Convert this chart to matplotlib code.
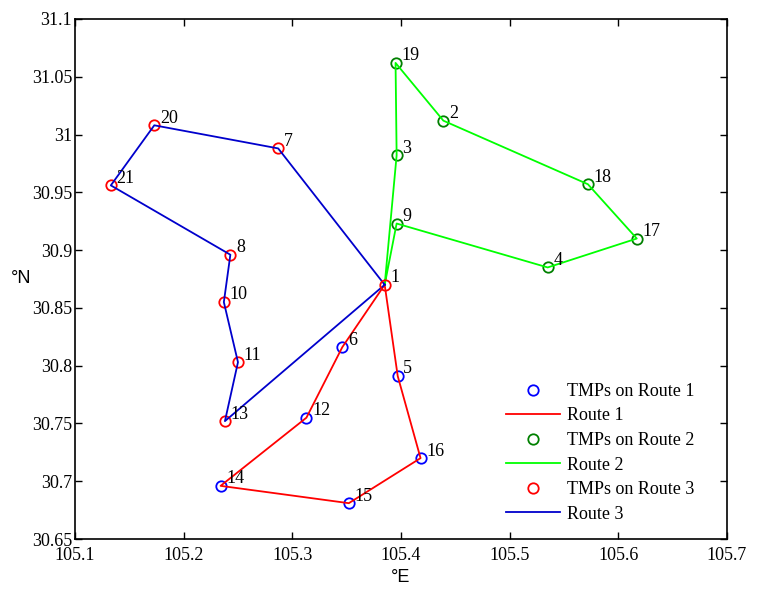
import matplotlib
matplotlib.use("Agg")
import matplotlib.pyplot as plt

# --- coordenadas de los puntos (lon, lat) ---
ids = list(range(1, 22))
lon = [105.385, 105.439, 105.396, 105.535, 105.397, 105.346, 105.287, 105.243,
       105.396, 105.237, 105.250, 105.313, 105.238, 105.234, 105.352, 105.418,
       105.617, 105.572, 105.395, 105.173, 105.133]
lat = [30.870, 31.012, 30.982, 30.885, 30.791, 30.816, 30.988, 30.896,
       30.923, 30.855, 30.803, 30.755, 30.752, 30.696, 30.681, 30.720,
       30.910, 30.957, 31.062, 31.008, 30.956]

# --- rutas (orden de visita) ---
route1 = [1, 6, 12, 14, 15, 16, 5, 1]
route2 = [1, 3, 19, 2, 18, 17, 4, 9, 1]
route3 = [1, 7, 20, 21, 8, 10, 11, 13, 1]

xticks = [105.1, 105.2, 105.3, 105.4, 105.5, 105.6, 105.7]
yticks = [30.65, 30.7, 30.75, 30.8, 30.85, 30.9, 30.95, 31.0, 31.05, 31.1]
ytick_labels = ['30.65', '30.7', '30.75', '30.8', '30.85', '30.9', '30.95',
                '31', '31.05', '31.1']

serif = 'Liberation Serif'
sans = 'Liberation Sans'

fig = plt.figure(figsize=(7.58, 5.95), dpi=100)
ax = fig.add_axes([0.0989, 0.0941, 0.8602, 0.8740])

estilos = [
    (route1, '#0000ff', '#ff0000', 'TMPs on Route 1', 'Route 1'),
    (route2, '#008000', '#00ff00', 'TMPs on Route 2', 'Route 2'),
    (route3, '#ff0000', '#0000cc', 'TMPs on Route 3', 'Route 3'),
]

for ruta, col_m, col_l, lab_m, lab_l in estilos:
    xs = [lon[i - 1] for i in ruta]
    ys = [lat[i - 1] for i in ruta]
    ax.plot(xs[1:-1], ys[1:-1], 'o', mfc='none', mec=col_m, ms=7.5, mew=1.3,
            label=lab_m)
    ax.plot(xs, ys, '-', color=col_l, lw=1.3, label=lab_l)

# punto 1 (deposito) en rojo
ax.plot(lon[0], lat[0], 'o', mfc='none', mec='#ff0000', ms=7.5, mew=1.3)

for i, x, y in zip(ids, lon, lat):
    ax.annotate(str(i), (x, y), xytext=(4, -1), textcoords='offset points',
                fontsize=13, family=serif, va='bottom', ha='left')

ax.set_xlim(105.1, 105.7)
ax.set_ylim(30.65, 31.1)
ax.set_xticks(xticks)
ax.set_xticklabels([str(t) for t in xticks], family=serif, fontsize=13)
ax.set_yticks(yticks)
ax.set_yticklabels(ytick_labels, family=serif, fontsize=13)
ax.tick_params(direction='in', top=True, right=True, length=5, width=1, pad=2)
ax.tick_params(axis='x', pad=6)
for s in ax.spines.values():
    s.set_linewidth(1.2)

ax.set_xlabel('°E', family=sans, fontsize=13, labelpad=3)
ax.set_ylabel('°N', family=sans, fontsize=13, rotation=0, labelpad=8,
              va='center')

ax.legend(loc='lower right', bbox_to_anchor=(0.975, 0.0), frameon=False,
          prop={'family': serif, 'size': 13}, handlelength=3.0,
          labelspacing=0.42, handletextpad=0.4)

fig.savefig('out.png', dpi=100)
